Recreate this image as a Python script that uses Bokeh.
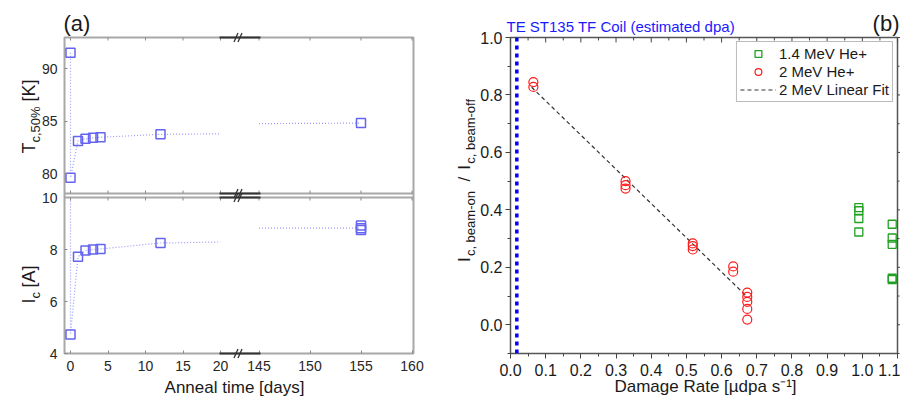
import math
from bokeh.plotting import figure
from bokeh.models import (Range1d, LinearAxis, FixedTicker, CustomJSTickFormatter,
                          PrintfTickFormatter, Legend, LegendItem, Span)
from bokeh.core.properties import value
from bokeh.layouts import row
from bokeh.embed import file_html
from bokeh.resources import INLINE

# ---------------- data: panel (a) ----------------
anneal_days = [0, 0, 1, 2, 3, 4, 12, 155]
tc50_K = [91.5, 79.6, 83.1, 83.3, 83.4, 83.45, 83.73, 84.8]
ic_days = [0, 1, 2, 3, 4, 12, 155, 155, 155]
ic_A = [4.73, 7.72, 7.96, 8.0, 8.02, 8.25, 8.92, 8.82, 8.75]
ic_pristine_offscale = 10.0   # pristine Ic is above the panel: dotted line leaves through the top
# dotted guide where it meets the axis break (20 d and 145 d)
guide_days = [20, 145]
tc_guide_K = [83.78, 84.75]
ic_guide_A = [8.29, 8.82]
tc_ticks = [80, 85, 90]
ic_ticks = [4, 6, 8, 10]
early_ticks = [0, 5, 10, 15, 20]
late_ticks = [145, 150, 155, 160]

# ---------------- data: panel (b) ----------------
he14_rate = [0.99, 0.99, 0.99, 0.99, 1.085, 1.085, 1.085, 1.085, 1.085]
he14_ratio = [0.408, 0.397, 0.370, 0.323, 0.350, 0.302, 0.280, 0.162, 0.157]
he2_rate = [0.065, 0.065, 0.327, 0.327, 0.327, 0.518, 0.518, 0.518,
            0.633, 0.633, 0.673, 0.673, 0.673, 0.673, 0.673]
he2_ratio = [0.845, 0.828, 0.500, 0.486, 0.474, 0.283, 0.274, 0.262,
             0.203, 0.185, 0.112, 0.097, 0.080, 0.055, 0.018]
fit_rate = [0.06, 0.667]
fit_ratio = [0.827, 0.104]
coil_rate = 0.018
rate_ticks = [0.0, 0.1, 0.2, 0.3, 0.4, 0.5, 0.6, 0.7, 0.8, 0.9, 1.0, 1.1]
ratio_ticks = [0.0, 0.2, 0.4, 0.6, 0.8, 1.0]

# ---------------- layout constants (pixels) ----------------
FONT = "Liberation Sans"
TXT = "#1a1a1a"
H = 396
LW, RW = 430, 470
FL, FR, FT, FB = 64, 413, 37, 353          # left frame
FW, FH = FR - FL, FB - FT
TC_EDGE, IC_EDGE = 193, 197                 # bottom of Tc panel, top of Ic panel
E0, EPX = -0.8, 7.5                         # early days: value at frame left, px/day
E1 = E0 + FW / EPX
L0, LPX = 125.93, 10.2                      # late days
L1 = L0 + FW / LPX
IC0, ICPX = 4.0, 26.0                       # Ic: value at frame bottom, px/A
IC1 = IC0 + FH / ICPX
TCPX = 10.5                                 # Tc: 90 K sits at y=68
TC1 = 90 + (68 - FT) / TCPX
TC0 = TC1 - FH / TCPX
MARK = "#6464f0"
GUIDE = "#9a9af6"
GREY = "#a8a8a8"

RFL, RFR, RFT, RFB = 510, 897, 37, 355      # right frame
RX0, RX1, RY0, RY1 = 0.0, 1.1, -0.1, 1.0


def early_of(t):
    return E0 + (t - L0) * (E1 - E0) / (L1 - L0)


def ic_of(tc):
    return IC0 + (tc - TC0) * (IC1 - IC0) / (TC1 - TC0)


def lconv(px, py):
    return E0 + (px - FL) / EPX, IC1 - (py - FT) / ICPX


def rconv(px, py):
    return (RX0 + (px - RFL) / (RFR - RFL) * (RX1 - RX0),
            RY1 - (py - RFT) / (RFB - RFT) * (RY1 - RY0))


def txt(p, conv, px, py, text, size, angle=0.0, align="left", baseline="middle", color=TXT):
    x, y = conv(px, py)
    p.text(x=[x], y=[y], text=[text], angle=angle, text_align=align,
           text_baseline=baseline, text_font=value(FONT),
           text_font_size=value(f"{size}px"), text_color=color, level="overlay")


def seg(p, conv, pts, color, width):
    x0, y0, x1, y1 = [], [], [], []
    for (ax, ay, bx, by) in pts:
        a = conv(ax, ay)
        b = conv(bx, by)
        x0.append(a[0]); y0.append(a[1]); x1.append(b[0]); y1.append(b[1])
    p.segment(x0=x0, y0=y0, x1=x1, y1=y1, line_color=color, line_width=width,
              level="overlay")


# =============== left: panels (a) ===============
pl = figure(width=LW, height=H, x_range=Range1d(E0, E1), y_range=Range1d(IC0, IC1),
            min_border_left=FL, min_border_right=LW - FR,
            min_border_top=FT, min_border_bottom=H - FB,
            x_axis_location=None, y_axis_location=None,
            output_backend="svg", toolbar_location=None)
pl.extra_x_ranges = {"late": Range1d(L0, L1)}
pl.extra_y_ranges = {"tc": Range1d(TC0, TC1)}
pl.xgrid.visible = False
pl.ygrid.visible = False
pl.outline_line_color = GREY
pl.outline_line_width = 2

xfmt = CustomJSTickFormatter(args=dict(e0=E0, e1=E1, l0=L0, l1=L1), code="""
    if (tick > 22) { return String(Math.round(l0 + (tick - e0) * (l1 - l0) / (e1 - e0))); }
    return String(Math.round(tick));
""")
yfmt = CustomJSTickFormatter(args=dict(a0=IC0, a1=IC1, b0=TC0, b1=TC1, s=10.4), code="""
    if (tick > s) { return String(Math.round(b0 + (tick - a0) * (b1 - b0) / (a1 - a0))); }
    return String(Math.round(tick));
""")
x_tick_pos = early_ticks + [early_of(t) for t in late_ticks]
pl.add_layout(LinearAxis(ticker=FixedTicker(ticks=x_tick_pos), formatter=xfmt,
                         axis_line_color=None, major_tick_in=3, major_tick_out=0,
                         minor_tick_in=0, minor_tick_out=0, major_tick_line_color="#8a8a8a",
                         major_label_text_font=FONT, major_label_text_font_size="14px",
                         major_label_standoff=7, major_label_text_color="#262626"), "below")
pl.add_layout(LinearAxis(ticker=FixedTicker(ticks=ic_ticks + [ic_of(t) for t in tc_ticks]),
                         formatter=yfmt, axis_line_color=None, major_tick_in=3,
                         major_tick_out=0, minor_tick_in=0, minor_tick_out=0,
                         major_tick_line_color="#8a8a8a", major_label_text_font=FONT,
                         major_label_text_font_size="14px", major_label_standoff=7,
                         major_label_text_color="#262626"), "left")

# inner frame edges between the two panels
seg(pl, lconv, [(FL, TC_EDGE, FR, TC_EDGE), (FL, IC_EDGE, FR, IC_EDGE)], GREY, 2)
# inward x ticks on the other horizontal edges
tick_px = [FL + (t - E0) * EPX for t in x_tick_pos]
tk = []
for tx in tick_px:
    tk += [(tx, FT, tx, FT + 3), (tx, TC_EDGE, tx, TC_EDGE - 3), (tx, IC_EDGE, tx, IC_EDGE + 3)]
seg(pl, lconv, tk, "#8a8a8a", 1)
# axis-break marks
brk, sl = [], []
for ey in (FT, TC_EDGE, IC_EDGE, FB):
    brk.append((219, ey, 260, ey))
    for cx in (235.5, 239.5):
        sl.append((cx - 2, ey + 4.5, cx + 2, ey - 4.5))
seg(pl, lconv, brk, "#333333", 2)
seg(pl, lconv, sl, "#333333", 1.3)


def plot_series(days, vals, first, guide_vals, late_idx, yname):
    ykw = {"y_range_name": yname} if yname else {}
    e_d = [d for d in days if d <= guide_days[0]]
    e_v = [v for d, v in zip(days, vals) if d <= guide_days[0]]
    l_d = [d for d in days if d >= guide_days[1]]
    l_v = [v for d, v in zip(days, vals) if d >= guide_days[1]]
    pre_d = [0] if first is not None else []
    pre_v = [first] if first is not None else []
    pl.line(pre_d + e_d + [guide_days[0]], pre_v + e_v + [guide_vals[0]],
            line_color=GUIDE, line_width=1.2, line_dash="1 2", **ykw)
    pl.line([guide_days[1], l_d[late_idx]], [guide_vals[1], l_v[late_idx]],
            line_color=GUIDE, line_width=1.2, line_dash="1 2", x_range_name="late", **ykw)
    pl.scatter(e_d, e_v, marker="square", size=9, fill_color=None,
               line_color=MARK, line_width=1.5, **ykw)
    pl.scatter(l_d, l_v, marker="square", size=9, fill_color=None,
               line_color=MARK, line_width=1.5, x_range_name="late", **ykw)


plot_series(anneal_days, tc50_K, None, tc_guide_K, 0, "tc")
plot_series(ic_days, ic_A, ic_pristine_offscale, ic_guide_A, 1, None)

txt(pl, lconv, 63, 23, "(a)", 22)
txt(pl, lconv, 28, 153, "T", 18, math.pi / 2, baseline="alphabetic")
txt(pl, lconv, 35, 142, "c,50%", 13, math.pi / 2, baseline="alphabetic")
txt(pl, lconv, 28, 101, "[K]", 18, math.pi / 2, baseline="alphabetic")
txt(pl, lconv, 28, 303, "I", 18, math.pi / 2, baseline="alphabetic")
txt(pl, lconv, 35, 298, "c", 13, math.pi / 2, baseline="alphabetic")
txt(pl, lconv, 28, 287, "[A]", 18, math.pi / 2, baseline="alphabetic")
txt(pl, lconv, 234, 387, "Anneal time [days]", 17, align="center")

# =============== right: panel (b) ===============
pr = figure(width=RW, height=H, x_range=Range1d(RX0, RX1), y_range=Range1d(RY0, RY1),
            min_border_left=RFL - LW, min_border_right=LW + RW - RFR,
            min_border_top=RFT, min_border_bottom=H - RFB,
            x_axis_location=None, y_axis_location=None,
            output_backend="svg", toolbar_location=None)
pr.xgrid.visible = False
pr.ygrid.visible = False
pr.outline_line_color = "#555555"
pr.outline_line_width = 1.5
xminor = [(a + b) / 2 for a, b in zip(rate_ticks[:-1], rate_ticks[1:])]
yminor = [-0.1] + [(a + b) / 2 for a, b in zip(ratio_ticks[:-1], ratio_ticks[1:])]
common = dict(axis_line_color=None, major_tick_in=0, major_tick_out=5, minor_tick_in=0,
              minor_tick_out=3, major_tick_line_color="#444444",
              minor_tick_line_color="#444444", major_label_text_font=FONT,
              major_label_text_font_size="16px", major_label_text_color=TXT,
              formatter=PrintfTickFormatter(format="%.1f"))
pr.add_layout(LinearAxis(ticker=FixedTicker(ticks=rate_ticks, minor_ticks=xminor),
                         major_label_standoff=5, **common), "below")
pr.add_layout(LinearAxis(ticker=FixedTicker(ticks=ratio_ticks, minor_ticks=yminor),
                         major_label_standoff=3, **common), "left")
# inward ticks on the top edge, outward ticks on the right edge
rt = []
for v in rate_ticks:
    px = RFL + (v - RX0) / (RX1 - RX0) * (RFR - RFL)
    rt.append((px, RFT, px, RFT + 5))
for v in xminor:
    px = RFL + (v - RX0) / (RX1 - RX0) * (RFR - RFL)
    rt.append((px, RFT, px, RFT + 3))
for v in ratio_ticks:
    py = RFT + (RY1 - v) / (RY1 - RY0) * (RFB - RFT)
    rt.append((RFR, py, RFR + 3, py))
for v in yminor:
    py = RFT + (RY1 - v) / (RY1 - RY0) * (RFB - RFT)
    rt.append((RFR, py, RFR + 2, py))
seg(pr, rconv, rt, "#444444", 1)

pr.add_layout(Span(location=coil_rate, dimension="height", line_color="#0000ff",
                   line_width=3.5, line_dash="4 4"))
r_fit = pr.line(fit_rate, fit_ratio, line_color="#333333", line_width=1.2, line_dash="4 3")
r_he2 = pr.scatter(he2_rate, he2_ratio, marker="circle", size=9, fill_color=None,
                   line_color="#ff1a1a", line_width=1.2)
r_he14 = pr.scatter(he14_rate, he14_ratio, marker="square", size=8, fill_color=None,
                    line_color="#22a022", line_width=1.3)
legend = Legend(items=[LegendItem(label="1.4 MeV He+", renderers=[r_he14]),
                       LegendItem(label="2 MeV He+", renderers=[r_he2]),
                       LegendItem(label="2 MeV Linear Fit", renderers=[r_fit])],
                location="top_right", margin=4, padding=3, spacing=1,
                glyph_width=36, glyph_height=17, label_height=17, label_standoff=3,
                label_text_font=FONT, label_text_font_size="15px", label_text_color=TXT,
                border_line_color="#777777", border_line_width=1)
pr.add_layout(legend)

txt(pr, rconv, 899, 23, "(b)", 22, align="right")
txt(pr, rconv, 506, 26, "TE ST135 TF Coil (estimated dpa)", 15, color="#1a1aff")
txt(pr, rconv, 705, 388, "Damage Rate [\u00b5dpa s\u207b\u00b9]", 17, align="center")
txt(pr, rconv, 464, 263, "I", 17, math.pi / 2, baseline="alphabetic")
txt(pr, rconv, 470, 257, "c, beam-on", 13, math.pi / 2, baseline="alphabetic")
txt(pr, rconv, 464, 182, "/", 17, math.pi / 2, baseline="alphabetic")
txt(pr, rconv, 464, 170, "I", 17, math.pi / 2, baseline="alphabetic")
txt(pr, rconv, 470, 164, "c, beam-off", 13, math.pi / 2, baseline="alphabetic")

layout = row(pl, pr)
open("out.html", "w").write(file_html(layout, INLINE))
